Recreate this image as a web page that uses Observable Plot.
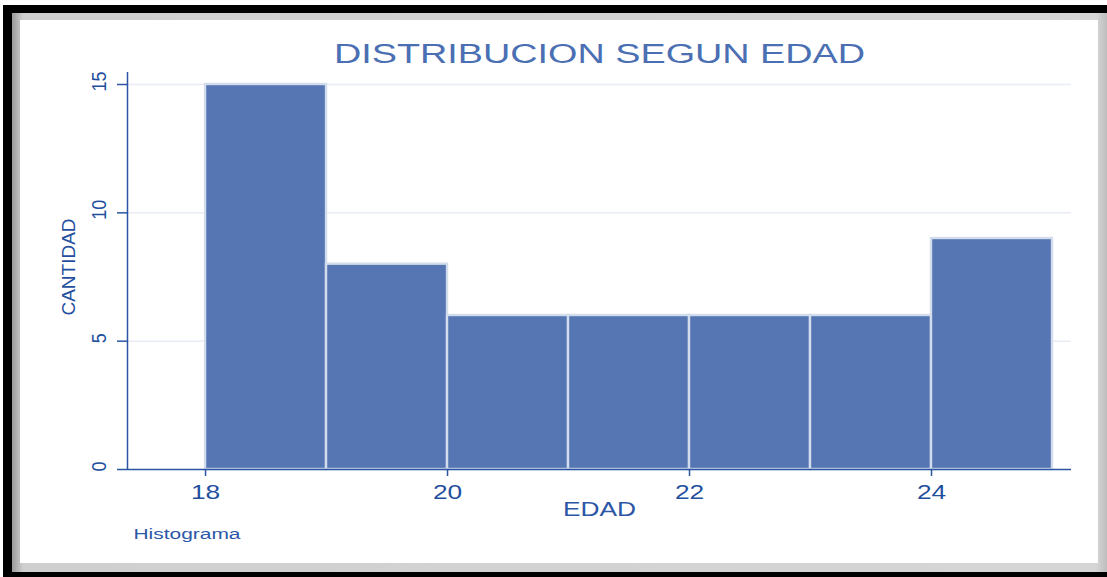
<!DOCTYPE html>
<html>
<head>
<meta charset="utf-8">
<script src="https://cdn.jsdelivr.net/npm/d3@7"></script>
<script src="https://cdn.jsdelivr.net/npm/@observablehq/plot@0.6"></script>
<style>
  html, body { margin: 0; padding: 0; background: #fff; }
  #wrap { position: relative; width: 1107px; height: 577px; overflow: hidden; }
  .layer { position: absolute; }
  #frame { left: 3px; top: 5px; width: 1104px; height: 572px; background: #000; }
  #bevel { left: 12px; top: 13px; width: 1095px; height: 559px; background: linear-gradient(to right, #9a9a9a, #cfcfcf 1%, #d6d6d6 99%, #bdbdbd); }
  #paper { left: 20px; top: 20px; width: 1078px; height: 543px; background: #fff; }
  #chart { left: 0; top: 0; }
</style>
</head>
<body>
<div id="wrap">
  <div class="layer" id="frame"></div>
  <div class="layer" id="bevel"></div>
  <div class="layer" id="paper"></div>
  <div class="layer" id="chart"></div>
</div>
<script>
// ---- data ----
const binStart = [18, 19, 20, 21, 22, 23, 24];
const binEnd   = [19, 20, 21, 22, 23, 24, 25];
const counts   = [15, 8, 6, 6, 6, 6, 9];
const xTicks = [18, 20, 22, 24];
const yTicks = [0, 5, 10, 15];
const gridTicks = [5, 10, 15];
const titleText = ["DISTRIBUCION SEGUN EDAD"];
const xLabelText = ["EDAD"];
const yLabelText = ["CANTIDAD"];
const noteText = ["Histograma"];

const bins = binStart.map((s, i) => ({start: s, end: binEnd[i], count: counts[i]}));

const xDomain = [17.355, 25.157];
const yDomain = [0, 15.468];
const axisColor = "#2b55a3";
const textColor = "#1f4f9e";
const font = "'Liberation Sans', Arial, Helvetica, sans-serif";
const S = 1.35;   // horizontal stretch of horizontal text
const SR = 1.15;  // horizontal stretch of rotated tick labels

const svg = Plot.plot({
  width: 1107,
  height: 577,
  marginLeft: 127,
  marginRight: 36,
  marginTop: 72,
  marginBottom: 108,
  style: {background: "transparent", fontFamily: font},
  x: {domain: xDomain, axis: null},
  y: {domain: yDomain, axis: null},
  marks: [
    Plot.ruleY(gridTicks, {stroke: "#e8ecf5", strokeWidth: 1.5}),
    Plot.rectY(bins, {x1: "start", x2: "end", y: "count", fill: "#5576b2", stroke: "#d3dcec", strokeWidth: 2.4}),
    // axis lines
    Plot.ruleX([xDomain[0]], {stroke: axisColor, strokeWidth: 1.5}),
    Plot.ruleY([0], {stroke: axisColor, strokeWidth: 1.5}),
    // y ticks
    Plot.ruleY(yTicks, {x1: xDomain[0], x2: xDomain[0], insetLeft: -10, stroke: axisColor, strokeWidth: 1.5}),
    // x ticks
    Plot.ruleX(xTicks, {y1: 0, y2: 0, insetBottom: -7, stroke: axisColor, strokeWidth: 1.5}),
    // y tick labels
    Plot.text(yTicks, {y: d => d, text: d => String(d), frameAnchor: "left", dx: -28, dy: -3, rotate: -90,
      textAnchor: "middle", lineAnchor: "middle", fontSize: 18, fill: textColor, className: "ytick"}),
    // x tick labels
    Plot.text(xTicks, {x: d => d, text: d => String(d), frameAnchor: "bottom", dy: 23,
      textAnchor: "middle", lineAnchor: "middle", fontSize: 19.5, fill: textColor}),
    // title
    Plot.text(titleText, {text: d => d, frameAnchor: "top", dy: -18.5, textAnchor: "middle", lineAnchor: "middle",
      fontSize: 28, fill: "#4b6fb3"}),
    // x label
    Plot.text(xLabelText, {text: d => d, frameAnchor: "bottom", dy: 40, textAnchor: "middle", lineAnchor: "middle",
      fontSize: 19.5, fill: "#2d57a6"}),
    // y label
    Plot.text(yLabelText, {text: d => d, frameAnchor: "left", dx: -59, dy: -4, rotate: -90,
      textAnchor: "middle", lineAnchor: "middle", fontSize: 19, fill: textColor}),
    // note
    Plot.text(noteText, {text: d => d, frameAnchor: "bottom-left", dx: 6, dy: 65, textAnchor: "start", lineAnchor: "middle",
      fontSize: 15.5, fill: "#2d57a6"})
  ]
});

// stretch text horizontally to mimic the reference's wide lettering
svg.querySelectorAll("text").forEach(t => {
  const tr = t.getAttribute("transform") || "";
  const txt = t.textContent;
  if (tr.includes("rotate")) {
    if (yTicks.map(String).includes(txt)) t.setAttribute("transform", `${tr} scale(1,${SR})`);
    return;
  }
  const x = +t.getAttribute("x") || 0, y = +t.getAttribute("y") || 0;
  t.setAttribute("transform", `${tr} translate(${x},${y}) scale(${S},1) translate(${-x},${-y})`);
});

document.getElementById("chart").appendChild(svg);
</script>
</body>
</html>
